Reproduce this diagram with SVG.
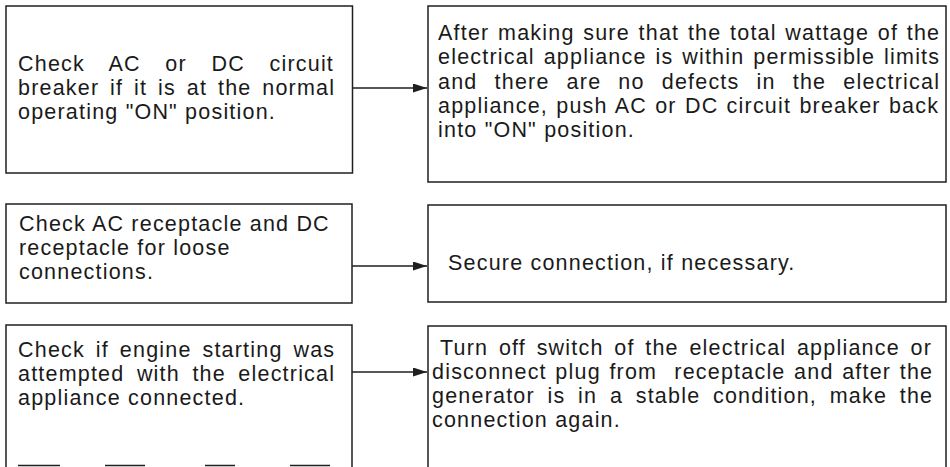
<svg xmlns="http://www.w3.org/2000/svg" width="950" height="467" viewBox="0 0 950 467">
  <style>
    .box { fill: #ffffff; stroke: #1f1f1f; stroke-width: 1.5; }
    .edge { fill: none; stroke: #1f1f1f; stroke-width: 1.5; }
    .conn { stroke: #1f1f1f; stroke-width: 1.4; fill: none; }
    .t { font-family: "Liberation Sans", Arial, Helvetica, sans-serif; font-size: 21.5px; letter-spacing: 1.2px; fill: #1a1a1a; }
  </style>
  <defs>
    <marker id="ah" markerUnits="userSpaceOnUse" markerWidth="15" markerHeight="10" refX="14" refY="4.5" orient="auto">
      <path d="M0,0 L14,4.5 L0,9 Z" fill="#1f1f1f"/>
    </marker>
  </defs>
  <rect width="950" height="467" fill="#ffffff"/>

  <g id="connectors">
    <line class="conn" x1="353" y1="88" x2="427" y2="88" marker-end="url(#ah)"/>
    <line class="conn" x1="352" y1="266" x2="427" y2="266" marker-end="url(#ah)"/>
    <line class="conn" x1="352" y1="372" x2="427" y2="372" marker-end="url(#ah)"/>
  </g>

  <g id="node-check-breaker">
    <rect class="box" x="6" y="6" width="346.5" height="167"/>
    <text class="t" x="18" y="70.5" style="word-spacing:17.45px">Check AC or DC circuit</text>
    <text class="t" x="18" y="94.5" style="word-spacing:3.65px">breaker if it is at the normal</text>
    <text class="t" x="18" y="118.5">operating "ON" position.</text>
  </g>

  <g id="node-reset-breaker">
    <rect class="box" x="428" y="6" width="518" height="176"/>
    <text class="t" x="438" y="39.5" style="word-spacing:1.5px">After making sure that the total wattage of the</text>
    <text class="t" x="438" y="64" style="word-spacing:1.7px">electrical appliance is within permissible limits</text>
    <text class="t" x="438" y="88.5" style="word-spacing:9.9px">and there are no defects in the electrical</text>
    <text class="t" x="438" y="112.5" style="word-spacing:1.05px">appliance, push AC or DC circuit breaker back</text>
    <text class="t" x="438" y="136.5">into "ON" position.</text>
  </g>

  <g id="node-check-receptacle">
    <rect class="box" x="6" y="204" width="346" height="99"/>
    <text class="t" x="19" y="231">Check AC receptacle and DC</text>
    <text class="t" x="19" y="255">receptacle for loose</text>
    <text class="t" x="19" y="279">connections.</text>
  </g>

  <g id="node-secure-connection">
    <rect class="box" x="428" y="205" width="518" height="97"/>
    <text class="t" x="448" y="270">Secure connection, if necessary.</text>
  </g>

  <g id="node-check-engine-start">
    <path class="edge" d="M6,467 V325 H352 V467"/>
    <path class="edge" d="M18,465.5 H60 M105,465.5 H145 M205,465.5 H235 M290,465.5 H330"/>
    <text class="t" x="18" y="356.5" style="word-spacing:3.7px">Check if engine starting was</text>
    <text class="t" x="18" y="380.5" style="word-spacing:5.3px">attempted with the electrical</text>
    <text class="t" x="18" y="404.5">appliance connected.</text>
  </g>

  <g id="node-turn-off-switch">
    <rect class="box" x="428" y="326" width="518" height="146"/>
    <text class="t" x="440" y="355" style="word-spacing:3.5px">Turn off switch of the electrical appliance or</text>
    <text class="t" x="432" y="379" xml:space="preserve" style="word-spacing:1.4px;white-space:pre">disconnect plug from  receptacle and after the</text>
    <text class="t" x="432" y="403" style="word-spacing:5.5px">generator is in a stable condition, make the</text>
    <text class="t" x="432" y="427">connection again.</text>
  </g>
</svg>
